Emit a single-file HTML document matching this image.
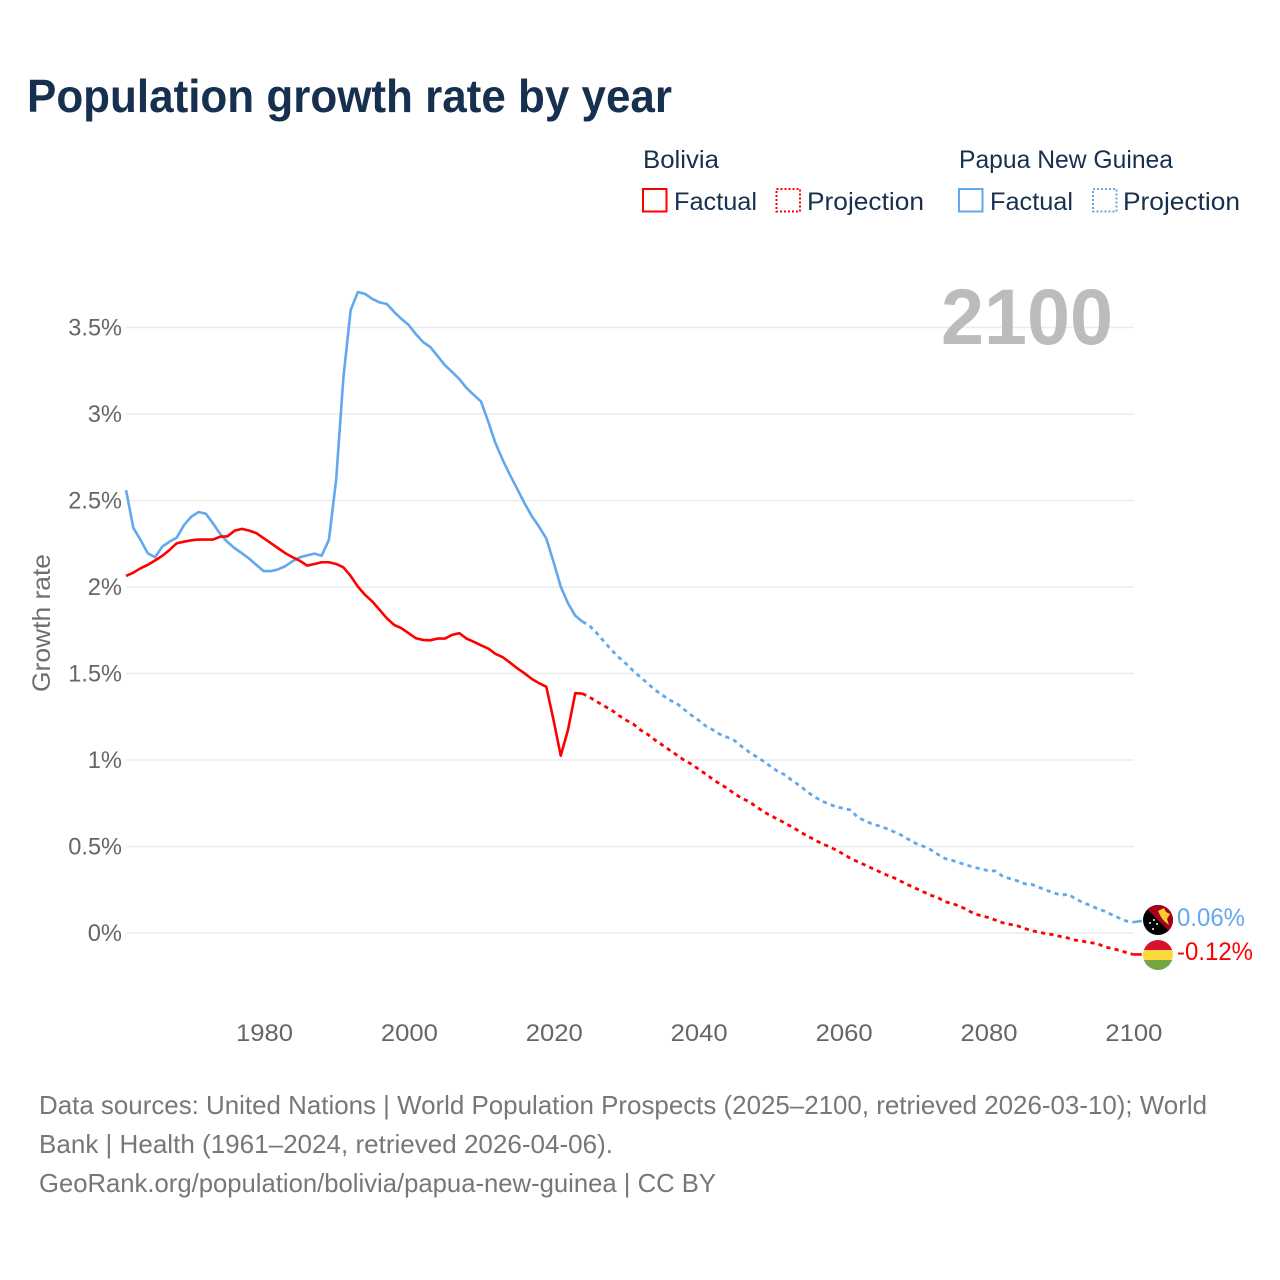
<!DOCTYPE html>
<html lang="en">
<head>
<meta charset="utf-8">
<title>Population growth rate by year</title>
<style>
html,body{margin:0;padding:0;background:#fff;}
svg{display:block;font-family:"Liberation Sans",sans-serif;}
</style>
</head>
<body>
<svg id="chart" xmlns="http://www.w3.org/2000/svg" width="1280" height="1280" viewBox="0 0 1280 1280">
  <rect width="1280" height="1280" fill="#fff"/>
  <text x="27" y="112" font-size="46" font-weight="700" fill="#17304f" textLength="645" lengthAdjust="spacingAndGlyphs">Population growth rate by year</text>

  <g font-size="25" fill="#17304f">
    <text x="643" y="168" textLength="76" lengthAdjust="spacingAndGlyphs">Bolivia</text>
    <text x="959" y="168" textLength="214" lengthAdjust="spacingAndGlyphs">Papua New Guinea</text>
    <rect x="643" y="189" width="23.5" height="22.5" fill="none" stroke="#ff0000" stroke-width="2"/>
    <text x="674" y="210" textLength="83" lengthAdjust="spacingAndGlyphs">Factual</text>
    <rect x="776.5" y="189" width="23.5" height="22.5" fill="none" stroke="#ff0000" stroke-width="2" stroke-dasharray="2 2"/>
    <text x="807" y="210" textLength="117" lengthAdjust="spacingAndGlyphs">Projection</text>
    <rect x="959" y="189" width="23.5" height="22.5" fill="none" stroke="#62a8ee" stroke-width="2"/>
    <text x="990" y="210" textLength="83" lengthAdjust="spacingAndGlyphs">Factual</text>
    <rect x="1093" y="189" width="23.5" height="22.5" fill="none" stroke="#62a8ee" stroke-width="2" stroke-dasharray="2 2"/>
    <text x="1123" y="210" textLength="117" lengthAdjust="spacingAndGlyphs">Projection</text>
  </g>

  <g id="grid"></g>
  <g id="yticks"></g>
  <g id="xticks"></g>
  <text transform="translate(50,623) rotate(-90)" text-anchor="middle" font-size="25" fill="#6e6e6e" textLength="138" lengthAdjust="spacingAndGlyphs">Growth rate</text>
  <text x="1113" y="344" text-anchor="end" font-size="79" font-weight="700" fill="#bcbcbc" textLength="172" lengthAdjust="spacingAndGlyphs">2100</text>
  <g id="series"></g>

  <defs>
    <clipPath id="clip-png"><circle cx="1158" cy="920" r="15"/></clipPath>
    <clipPath id="clip-bol"><circle cx="1158" cy="955" r="15"/></clipPath>
  </defs>
  <g clip-path="url(#clip-png)">
    <rect x="1143" y="905" width="30" height="30" fill="#000"/>
    <polygon points="1143,905 1173,905 1173,935" fill="#a5001e"/>
    <polygon points="1158,911 1164,908 1166,912 1170,914 1167,919 1169,925 1164,921 1161,917" fill="#fcc92f"/>
    <circle cx="1150" cy="923" r="1" fill="#fff"/>
    <circle cx="1154" cy="920" r="1" fill="#fff"/>
    <circle cx="1157" cy="924" r="1" fill="#fff"/>
    <circle cx="1153" cy="929" r="1" fill="#fff"/>
  </g>
  <g clip-path="url(#clip-bol)">
    <rect x="1143" y="940" width="30" height="10" fill="#d7122a"/>
    <rect x="1143" y="950" width="30" height="10" fill="#fdd83c"/>
    <rect x="1143" y="960" width="30" height="10" fill="#73a544"/>
  </g>
  <text x="1177" y="926" font-size="25" fill="#62a8ee" textLength="68" lengthAdjust="spacingAndGlyphs">0.06%</text>
  <text x="1177" y="960" font-size="25" fill="#ff0000" textLength="76" lengthAdjust="spacingAndGlyphs">-0.12%</text>

  <g font-size="26" fill="#777">
    <text x="39" y="1114" textLength="1168" lengthAdjust="spacingAndGlyphs">Data sources: United Nations | World Population Prospects (2025–2100, retrieved 2026-03-10); World</text>
    <text x="39" y="1153" textLength="574" lengthAdjust="spacingAndGlyphs">Bank | Health (1961–2024, retrieved 2026-04-06).</text>
    <text x="39" y="1192" textLength="677" lengthAdjust="spacingAndGlyphs">GeoRank.org/population/bolivia/papua-new-guinea | CC BY</text>
  </g>
</svg>
<script>
var factualStartYear = 1961;
var projectionStartYear = 2024;
var xTickYears = [1980, 2000, 2020, 2040, 2060, 2080, 2100];
var yTickValues = [0, 0.5, 1, 1.5, 2, 2.5, 3, 3.5];
var yTickLabels = ["0%", "0.5%", "1%", "1.5%", "2%", "2.5%", "3%", "3.5%"];

var boliviaFactual = [
  2.064,2.083,2.108,2.128,2.153,2.18,2.214,2.253,2.262,2.27,
  2.274,2.274,2.274,2.291,2.293,2.326,2.336,2.326,2.311,2.282,
  2.253,2.224,2.195,2.172,2.151,2.124,2.133,2.143,2.143,2.133,
  2.114,2.064,2.002,1.954,1.916,1.868,1.819,1.781,1.762,1.733,
  1.704,1.694,1.692,1.702,1.702,1.723,1.733,1.702,1.683,1.663,
  1.644,1.613,1.594,1.563,1.53,1.501,1.469,1.444,1.424,1.232,
  1.025,1.174,1.386,1.384
];
var boliviaProjection = [
  1.384,1.362,1.337,1.312,1.289,1.258,1.231,1.208,1.174,1.148,
  1.116,1.087,1.058,1.029,1.0,0.977,0.948,0.919,0.888,0.861,
  0.836,0.804,0.779,0.759,0.73,0.701,0.678,0.657,0.634,0.611,
  0.586,0.561,0.54,0.517,0.5,0.48,0.456,0.431,0.412,0.393,
  0.373,0.354,0.335,0.319,0.298,0.277,0.258,0.239,0.219,0.206,
  0.181,0.171,0.156,0.136,0.113,0.1,0.09,0.075,0.059,0.05,
  0.042,0.027,0.013,0.005,-0.004,-0.01,-0.02,-0.029,-0.041,-0.047,
  -0.056,-0.06,-0.079,-0.089,-0.099,-0.112,-0.124
];
var pngFactual = [
  2.56,2.343,2.272,2.195,2.172,2.233,2.262,2.285,2.358,2.406,
  2.433,2.424,2.368,2.306,2.26,2.224,2.195,2.164,2.127,2.092,
  2.092,2.102,2.121,2.15,2.172,2.183,2.193,2.181,2.272,2.62,
  3.21,3.6,3.705,3.694,3.665,3.645,3.636,3.59,3.55,3.515,
  3.462,3.416,3.387,3.335,3.283,3.243,3.202,3.15,3.11,3.072,
  2.955,2.83,2.734,2.647,2.566,2.484,2.41,2.349,2.281,2.146,
  2.002,1.906,1.834,1.8
];
var pngProjection = [
  1.8,1.775,1.732,1.684,1.636,1.594,1.557,1.516,1.478,1.443,
  1.405,1.376,1.347,1.328,1.293,1.26,1.231,1.197,1.174,1.148,
  1.131,1.112,1.077,1.046,1.019,0.992,0.962,0.933,0.913,0.879,
  0.852,0.817,0.788,0.763,0.746,0.73,0.72,0.711,0.668,0.649,
  0.63,0.618,0.603,0.585,0.566,0.541,0.518,0.502,0.483,0.456,
  0.431,0.42,0.406,0.393,0.381,0.37,0.36,0.358,0.328,0.314,
  0.302,0.285,0.281,0.264,0.248,0.233,0.219,0.223,0.2,0.177,
  0.161,0.142,0.127,0.107,0.088,0.07,0.062
];
var boliviaEndValue = -0.124;
var pngEndValue = 0.07;

var NS = "http://www.w3.org/2000/svg";
function xScale(year) { return 264.5 + (year - 1980) * 7.245; }
function yScale(value) { return 933 - value * 173; }
function xData(year) { return xScale(year) - 0.8; }
function labelWidth(s) {
  var w = 0;
  for (var i = 0; i < s.length; i++) {
    var c = s.charAt(i);
    w += c === "%" ? 20 : c === "." ? 5.2 : 14.25;
  }
  return w;
}
function linePath(startYear, values) {
  return values.map(function (v, i) {
    return (i ? "L" : "M") + xData(startYear + i).toFixed(2) + " " + yScale(v).toFixed(2);
  }).join(" ");
}

var gridGroup = document.getElementById("grid");
var yTickGroup = document.getElementById("yticks");
var xTickGroup = document.getElementById("xticks");
var seriesGroup = document.getElementById("series");

yTickValues.forEach(function (v, i) {
  var line = document.createElementNS(NS, "line");
  
  
  line.setAttribute("x1", xScale(1961) - 1);
  line.setAttribute("x2", xScale(2100));
  line.setAttribute("y1", yScale(v));
  line.setAttribute("y2", yScale(v));
  line.setAttribute("stroke", "#ececec");
  line.setAttribute("stroke-width", "1.6");
  gridGroup.appendChild(line);

  var t = document.createElementNS(NS, "text");
  
  
  t.setAttribute("x", 122);
  t.setAttribute("y", yScale(v) + 8);
  t.setAttribute("text-anchor", "end");
  t.setAttribute("font-size", "24");
  t.setAttribute("fill", "#666");
  t.setAttribute("textLength", labelWidth(yTickLabels[i]));
  t.setAttribute("lengthAdjust", "spacingAndGlyphs");
  t.textContent = yTickLabels[i];
  yTickGroup.appendChild(t);
});

xTickYears.forEach(function (year) {
  var t = document.createElementNS(NS, "text");
  
  
  t.setAttribute("x", xScale(year));
  t.setAttribute("y", 1041);
  t.setAttribute("text-anchor", "middle");
  t.setAttribute("font-size", "24");
  t.setAttribute("fill", "#666");
  t.setAttribute("textLength", labelWidth(String(year)));
  t.setAttribute("lengthAdjust", "spacingAndGlyphs");
  t.textContent = year;
  xTickGroup.appendChild(t);
});

function addLine(d, color, dashed) {
  var p = document.createElementNS(NS, "path");
  p.setAttribute("d", d);
  p.setAttribute("fill", "none");
  p.setAttribute("stroke", color);
  p.setAttribute("stroke-width", dashed ? "2.8" : "2.6");
  p.setAttribute("stroke-linejoin", "round");
  if (dashed) { p.setAttribute("stroke-dasharray", "4.2 4.2"); }
  seriesGroup.appendChild(p);
  return p;
}

var l1 = addLine(linePath(factualStartYear, pngFactual), "#62a8ee", false);


var l2 = addLine(linePath(projectionStartYear, pngProjection), "#62a8ee", true);


var l3 = addLine(linePath(factualStartYear, boliviaFactual), "#ff0000", false);


var l4 = addLine(linePath(projectionStartYear, boliviaProjection), "#ff0000", true);


var c1 = addLine("M" + xData(2100) + " " + yScale(pngProjection[pngProjection.length - 1]) + " L" + xData(2101.2) + " " + yScale(pngEndValue), "#62a8ee", false);


var c2 = addLine("M" + xData(2100) + " " + yScale(boliviaProjection[boliviaProjection.length - 1]) + " L" + xData(2101.2) + " " + yScale(boliviaEndValue), "#ff0000", false);


</script>
</body>
</html>
